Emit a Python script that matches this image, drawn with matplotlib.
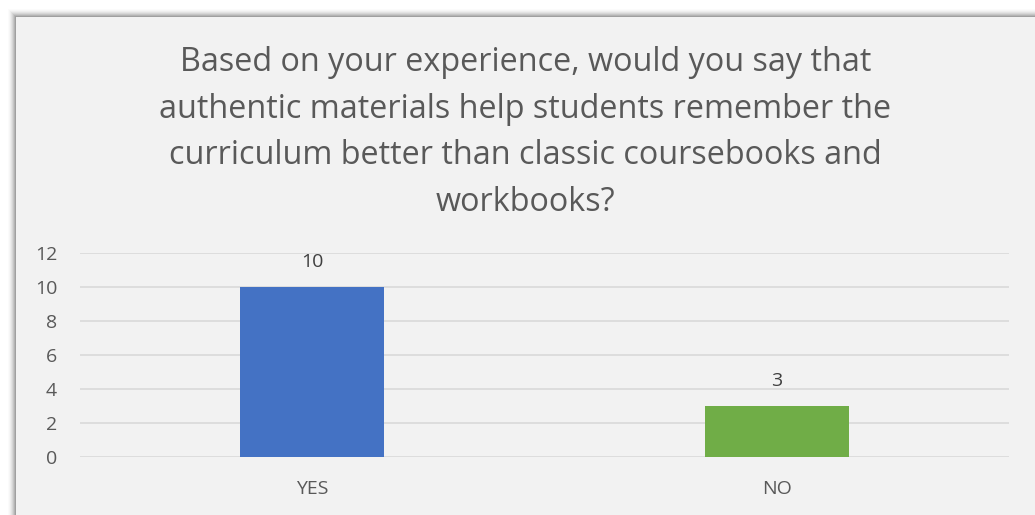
import matplotlib.pyplot as plt
from matplotlib.patches import Rectangle

# chart data
categories = ['YES', 'NO']
counts = [10, 3]
bar_colors = ['#4472C4', '#70AD47']
yticks = [0, 2, 4, 6, 8, 10, 12]
title = ('Based on your experience, would you say that\n'
         'authentic materials help students remember the\n'
         'curriculum better than classic coursebooks and\n'
         'workbooks?')

plt.rcParams['font.family'] = ['Open Sans', 'DejaVu Sans']
W, H = 1035, 515
fig = plt.figure(figsize=(W / 100, H / 100), dpi=100)
fig.patch.set_facecolor('white')

# soft shadow + panel
for i, a in enumerate([0.04, 0.06, 0.09, 0.12, 0.16, 0.2, 0.25, 0.3]):
    off = 8 - i
    fig.add_artist(Rectangle((16 - off, 0), W, H - 17 + off, transform=None,
                             facecolor='black', alpha=a * 0.35, edgecolor='none', zorder=0))
fig.add_artist(Rectangle((16, -5), W, H - 17 + 5, transform=None,
                         facecolor='#F2F2F2', edgecolor='none', zorder=1))

ax = fig.add_axes([80 / W, 1 - 457.3 / H, (1009 - 80) / W, (457.3 - 252.7) / H])
ax.set_facecolor('none')
ax.set_zorder(2)

x = range(len(categories))
bars = ax.bar(x, counts, width=0.31, color=bar_colors, zorder=3)
for b, v in zip(bars, counts):
    ax.annotate(str(v), (b.get_x() + b.get_width() / 2, v), xytext=(0, 18),
                textcoords='offset points', ha='center', va='center',
                fontsize=14, color='#404040')

ax.set_xlim(-0.5, 1.5)
ax.set_ylim(0, 12)
ax.set_yticks(yticks)
ax.set_xticks(list(x))
ax.set_xticklabels(categories)
ax.yaxis.grid(True, color='#D9D9D9', linewidth=1.2)
ax.set_axisbelow(True)
for s in ax.spines.values():
    s.set_visible(False)
ax.tick_params(length=0, labelsize=14, colors='#595959')
ax.tick_params(axis='x', pad=16.5)
ax.tick_params(axis='y', pad=16.5)
for lbl in ax.get_yticklabels():
    lbl.set_horizontalalignment('right')

fig.text(0.5 + 8 / W, 1 - 132.5 / H, title, ha='center', va='center', fontsize=23.3,
         color='#595959', linespacing=1.54, zorder=3)

fig.savefig('out.png', dpi=100)
